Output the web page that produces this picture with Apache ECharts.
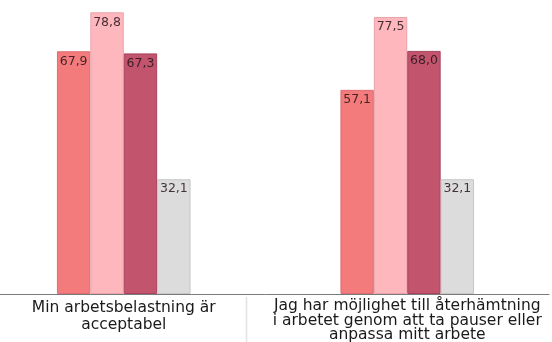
<!DOCTYPE html>
<html>
<head>
<meta charset="utf-8">
<script src="https://cdn.jsdelivr.net/npm/echarts@6/dist/echarts.min.js"></script>
<style>
  html, body { margin: 0; padding: 0; background: #fff; overflow: hidden; }
  #wrap { width: 552px; height: 342px; overflow: hidden; position: relative; }
  /* the plot is a little wider than the page so the first band starts off the left edge */
  #chart { width: 570px; height: 342px; position: absolute; left: -18px; top: 0; }
</style>
</head>
<body>
<div id="wrap"><div id="chart"></div></div>
<script>
// Statements shown on the category axis
const categories = [
  'Min arbetsbelastning är\nacceptabel',
  'Jag har möjlighet till återhämtning\ni arbetet genom att ta pauser eller\nanpassa mitt arbete'
];

// Percentages for the four groups, one value per statement
const seriesA = [67.9, 57.1];
const seriesB = [78.8, 77.5];
const seriesC = [67.3, 68.0];
const seriesD = [32.1, 32.1];

const colors = ['#F37B7C', '#FEB7BD', '#C2546E', '#DCDCDC'];
const borders = ['#DE6C72', '#E8A3AA', '#A8425E', '#C6C6C6'];

const fmt = v => v.toFixed(1).replace('.', ',');

function makeSeries(data, i) {
  return {
    type: 'bar',
    data: data,
    barWidth: 33.4,
    barGap: '0%',
    itemStyle: { color: colors[i], borderColor: borders[i], borderWidth: 1 },
    label: {
      show: true,
      position: 'insideTop',
      distance: 4,
      fontFamily: 'DejaVu Sans',
      fontSize: 12.5,
      lineHeight: 12,
      color: 'rgba(40,20,25,0.85)',
      formatter: p => fmt(p.value)
    },
    silent: true
  };
}

const chart = echarts.init(document.getElementById('chart'), null, { renderer: 'canvas' });
chart.setOption({
  animation: false,
  grid: { left: 0, right: 3, top: 8, bottom: 48, outerBoundsMode: 'none', containLabel: false },
  xAxis: {
    type: 'category',
    data: [
      { value: categories[0], textStyle: { lineHeight: 17 } },
      { value: categories[1], textStyle: { lineHeight: 14.5 } }
    ],
    axisLine: { show: true, lineStyle: { color: '#7a7a7a', width: 1 } },
    axisTick: { show: false },
    axisLabel: {
      interval: 0,
      hideOverlap: false,
      margin: 5,
      fontFamily: 'DejaVu Sans',
      fontSize: 15.5,
      color: '#1a1a1a',
      align: 'center'
    }
  },
  yAxis: {
    type: 'value',
    min: 0,
    max: 80,
    show: false,
    splitLine: { show: false }
  },
  series: [seriesA, seriesB, seriesC, seriesD].map(makeSeries),
  graphic: [{
    type: 'line',
    shape: { x1: 264.5, y1: 297, x2: 264.5, y2: 342 },
    style: { stroke: '#e2e2e2', lineWidth: 1.5 },
    silent: true
  }]
});
</script>
</body>
</html>
